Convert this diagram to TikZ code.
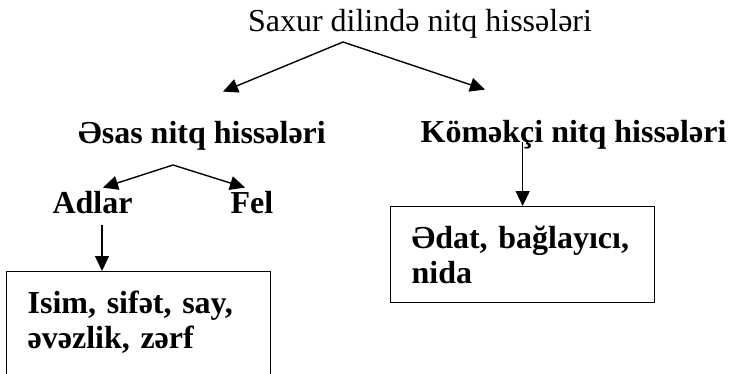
\documentclass[tikz,border=0pt]{standalone}
\usepackage{fontspec}
\setmainfont{Liberation Serif}
\usetikzlibrary{arrows.meta}
\tikzstyle{titre}=[inner sep=0pt,font=\fontsize{32}{35}\selectfont]
\tikzstyle{partie}=[inner sep=0pt,font=\fontsize{32}{35}\selectfont\bfseries]
\tikzstyle{boite}=[draw,line width=1.3pt,rectangle,inner xsep=21pt,inner ysep=19pt,
text width=222pt,align=left,font=\fontsize{32}{35}\selectfont\bfseries]
\tikzstyle{fleche}=[line width=1.4pt,-{Triangle[length=15pt,width=14pt]}]

\begin{document}
\begin{tikzpicture}[x=1pt,y=-1pt]
      \clip (0,0) rectangle (729,373);
      \node[titre,anchor=base] (S) at (420,31) {Saxur dilində nitq hissələri};
      \node[partie,anchor=base] (A) at (202,143) {Əsas nitq hissələri};
      \node[partie,anchor=base] (K) at (573.5,142) {Köməkçi nitq hissələri};
      \node[partie,anchor=base] (Ad) at (92.5,213) {Adlar};
      \node[partie,anchor=base] (F) at (252,213) {Fel};
      \node[boite,anchor=north west,text depth=70pt] (I) at (6,271) {Isim, sifət, say,\\əvəzlik, zərf};
      \node[boite,anchor=north west] (E) at (390,206) {Ədat, bağlayıcı,\\nida};
      \coordinate (S1) at (343,42);
      \coordinate (A1) at (173,165);

      \draw[fleche] (S1) -- ([xshift=21pt,yshift=29pt]A.north);
      \draw[fleche] (S1) -- ([xshift=-88.5pt,yshift=30pt]K.north);
      \draw[fleche] (A1) -- ([xshift=10.5pt,yshift=3pt]Ad.north);
      \draw[fleche] (A1) -- ([xshift=-7pt,yshift=3pt]F.north);
      \draw[fleche] ([xshift=9.5pt,yshift=-12pt]Ad.base) -- ([xshift=9.5pt]Ad.base |- I.north);
      \draw[fleche] (E.north |- K.base) -- (E.north);
\end{tikzpicture}
\end{document}
